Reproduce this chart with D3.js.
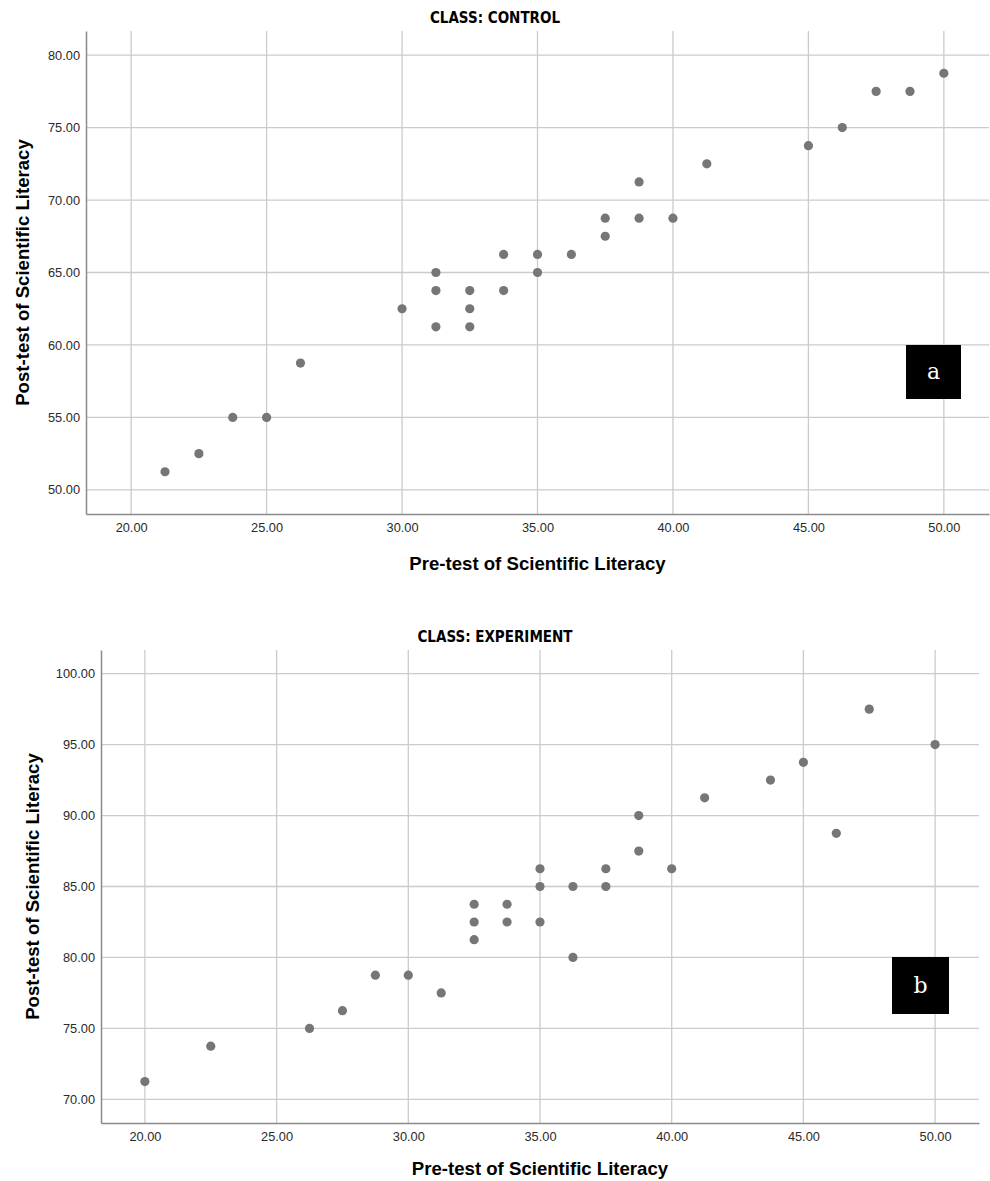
<!DOCTYPE html>
<html>
<head>
<meta charset="utf-8">
<script src="https://cdn.jsdelivr.net/npm/d3@7"></script>
<style>
	body { margin: 0; background: #fff; }
	svg { display: block; }
	.tick text { font-family: "Liberation Sans", Arial, sans-serif; font-size: 12.8px; fill: #2a2a2a; }
</style>
</head>
<body>
<svg id="chart" width="990" height="1181"></svg>
<script>
	// control class: pre-test / post-test
	var controlPre  = [21.25, 22.5, 23.75, 25, 26.25, 30, 31.25, 31.25, 31.25, 32.5, 32.5, 32.5, 33.75, 33.75,
		35, 35, 36.25, 37.5, 37.5, 38.75, 38.75, 40, 41.25, 45, 46.25, 47.5, 48.75, 50];
	var controlPost = [51.25, 52.5, 55, 55, 58.75, 62.5, 65, 63.75, 61.25, 63.75, 62.5, 61.25, 66.25, 63.75,
		66.25, 65, 66.25, 68.75, 67.5, 71.25, 68.75, 68.75, 72.5, 73.75, 75, 77.5, 77.5, 78.75];

	// experiment class
	var expPre  = [20, 22.5, 26.25, 27.5, 28.75, 30, 31.25, 32.5, 32.5, 32.5, 33.75, 33.75, 35, 35, 35,
		36.25, 36.25, 37.5, 37.5, 38.75, 38.75, 40, 41.25, 43.75, 45, 46.25, 47.5, 50];
	var expPost = [71.25, 73.75, 75, 76.25, 78.75, 78.75, 77.5, 83.75, 82.5, 81.25, 83.75, 82.5, 86.25, 85, 82.5,
		85, 80, 86.25, 85, 90, 87.5, 86.25, 91.25, 92.5, 93.75, 88.75, 97.5, 95];

	var xTicks = [20, 25, 30, 35, 40, 45, 50];
	var yTicksControl = [50, 55, 60, 65, 70, 75, 80];
	var yTicksExp = [70, 75, 80, 85, 90, 95, 100];

	var svg = d3.select('#chart');

	function panel(opt) {
		var g = svg.append('g');
		var x = d3.scaleLinear().domain([opt.xTicks[0] - 5/3, opt.xTicks[opt.xTicks.length-1] + 5/3]).range([opt.left, opt.right]);
		var y = d3.scaleLinear().domain([opt.yTicks[0] - 5/3, opt.yTicks[opt.yTicks.length-1] + 5/3]).range([opt.bottom, opt.top]);

		// grid
		g.selectAll('line.vg').data(opt.xTicks).enter().append('line')
			.attr('x1', function(d) { return x(d) }).attr('x2', function(d) { return x(d) })
			.attr('y1', opt.top).attr('y2', opt.bottom)
			.style('stroke', '#cbcbcb').style('stroke-width', 1.3);
		g.selectAll('line.hg').data(opt.yTicks).enter().append('line')
			.attr('y1', function(d) { return y(d) }).attr('y2', function(d) { return y(d) })
			.attr('x1', opt.left).attr('x2', opt.right)
			.style('stroke', '#cbcbcb').style('stroke-width', 1.3);

		var xa = g.append('g').attr('transform', 'translate(0,' + opt.bottom + ')')
			.call(d3.axisBottom(x).tickValues(opt.xTicks).tickFormat(d3.format('.2f')).tickSize(0).tickPadding(9));
		var ya = g.append('g').attr('transform', 'translate(' + opt.left + ',0)')
			.call(d3.axisLeft(y).tickValues(opt.yTicks).tickFormat(d3.format('.2f')).tickSize(0).tickPadding(6));
		[xa, ya].forEach(function(a) {
			a.select('.domain').style('stroke', '#8a8a8a').style('stroke-width', 1.5);
		});

		g.selectAll('circle').data(opt.pre).enter().append('circle')
			.attr('cx', function(d) { return x(d) })
			.attr('cy', function(d, i) { return y(opt.post[i]) })
			.attr('r', 4.6)
			.style('fill', '#767676');

		g.append('text').attr('x', 495).attr('y', opt.top - 8)
			.attr('text-anchor', 'middle')
			.style('font-family', '"DejaVu Sans Condensed", "DejaVu Sans", sans-serif').style('font-stretch', 'condensed')
			.style('font-weight', 'bold').style('font-size', '15px')
			.text(opt.title);

		g.append('text').attr('x', (opt.left + opt.right) / 2).attr('y', opt.bottom + opt.xLabelDy)
			.attr('text-anchor', 'middle')
			.style('font-family', '"Liberation Sans", Arial, sans-serif')
			.style('font-weight', 'bold').style('font-size', '18.6px')
			.text('Pre-test of Scientific Literacy');

		g.append('text')
			.attr('transform', 'translate(' + opt.yLabelX + ',' + (opt.top + opt.bottom) / 2 + ') rotate(-90)')
			.attr('text-anchor', 'middle')
			.style('font-family', '"Liberation Sans", Arial, sans-serif')
			.style('font-weight', 'bold').style('font-size', '18.6px')
			.text('Post-test of Scientific Literacy');

		g.append('rect').attr('x', opt.box[0]).attr('y', opt.box[1])
			.attr('width', opt.box[2]).attr('height', opt.box[3]).style('fill', '#000');
		g.append('text').attr('x', opt.box[0] + opt.box[2] / 2).attr('y', opt.box[1] + opt.box[3] / 2 + 7)
			.attr('text-anchor', 'middle')
			.style('font-family', '"DejaVu Serif", serif').style('font-size', '22px').style('fill', '#fff')
			.text(opt.letter);
	}

	panel({ left: 86, right: 989, top: 31, bottom: 514, xTicks: xTicks, yTicks: yTicksControl,
		pre: controlPre, post: controlPost, title: 'CLASS: CONTROL', yLabelX: 29, xLabelDy: 56,
		box: [906, 345, 55, 54], letter: 'a' });

	panel({ left: 101, right: 979, top: 650, bottom: 1123, xTicks: xTicks, yTicks: yTicksExp,
		pre: expPre, post: expPost, title: 'CLASS: EXPERIMENT', yLabelX: 39, xLabelDy: 52,
		box: [892, 957, 57, 57], letter: 'b' });
</script>
</body>
</html>
